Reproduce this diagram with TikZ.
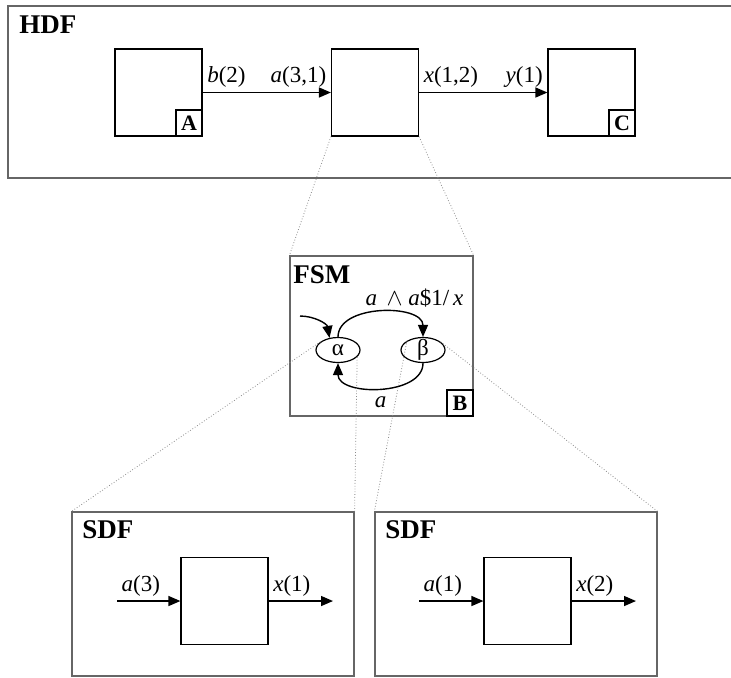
\documentclass[tikz,border=0pt]{standalone}
\usepackage{fontspec}
\setmainfont{Liberation Serif}
\usetikzlibrary{arrows.meta,shapes.geometric}

\tikzset{
  frame/.style={draw=black!60, line width=0.6pt, inner sep=0pt},
  block/.style={draw, line width=0.6pt, minimum width=43.5pt, minimum height=43.5pt, inner sep=0pt},
  tag/.style={draw, line width=0.6pt, minimum size=13pt, inner sep=0pt, anchor=south east,
    font=\fontsize{11}{12}\selectfont\bfseries},
  title/.style={inner sep=0pt, anchor=north west, font=\fontsize{13.5}{15}\selectfont\bfseries},
  state/.style={draw, ellipse, line width=0.6pt, minimum width=22pt, minimum height=12.5pt,
    inner sep=0pt, text height=5.5pt, text depth=0pt, font=\fontsize{11.5}{13}\selectfont},
  flow/.style={line width=0.7pt, -{Triangle[length=6pt,width=5pt]}},
  zoomline/.style={draw=black!45, densely dotted, line width=0.4pt},
  lbl/.style={inner sep=2pt, font=\fontsize{11.5}{13}\selectfont}
}

\begin{document}
\begin{tikzpicture}[x=0.5pt,y=-0.5pt]
  \useasboundingbox (0,0) rectangle (731,677);
  % HDF level
  \node (hdf) [frame, minimum width=370pt, minimum height=86pt] at (378,92) {};
  \node (hdft) [title] at (19,15) {HDF};
  \node (A) [block] at (158.5,92.5) {};
  \node (mid) [block] at (375,92.5) {};
  \node (C) [block] at (591.5,92.5) {};
  \node (Atag) [tag] at (A.south east) {A};
  \node (Ctag) [tag] at (C.south east) {C};
  \draw[flow] (A) -- (mid)
    node[pos=0, lbl, above right] {\textit{b}(2)}
    node[pos=1, lbl, above left] {\textit{a}(3,1)};
  \draw[flow] (mid) -- (C)
    node[pos=0, lbl, above right] {\textit{x}(1,2)}
    node[pos=1, lbl, above left] {\textit{y}(1)};
  % FSM level
  \node (fsm) [frame, minimum width=91.5pt, minimum height=80pt] at (381.5,336) {};
  \node (fsmt) [title] at (293,265) {FSM};
  \node (Btag) [tag] at (fsm.south east) {B};
  \node (alpha) [state] at (338,350) {α};
  \node (beta) [state] at (423,350) {β};
  \coordinate (init) at (300,316);
  \draw[flow] (init) to[out=0, in=100] (alpha.125);
  \draw[flow] (alpha.north) to[out=90, in=90]
    node[lbl, above, xshift=17pt] {\textit{a}\, $\wedge$ \textit{a}\$1/\,\textit{x}} (beta.north);
  \draw[flow] (beta.south) to[out=-90, in=-90]
    node[lbl, below, yshift=-2pt] {\textit{a}} (alpha.south);
  \draw[zoomline] (mid.south west) -- (fsm.north west);
  \draw[zoomline] (mid.south east) -- (fsm.north east);
  % SDF level
  \node (sdfL) [frame, minimum width=141pt, minimum height=82pt] at (213,594) {};
  \node (sdfR) [frame, minimum width=141pt, minimum height=82pt] at (516,594) {};
  \node (sdfLt) [title] at (82,520) {SDF};
  \node (sdfRt) [title] at (385,520) {SDF};
  \node (actL) [block] at (224.5,601) {};
  \node (actR) [block] at (527.5,601) {};
  \coordinate (inL) at (117,601);
  \coordinate (outL) at (333,601);
  \coordinate (inR) at (419,601);
  \coordinate (outR) at (636,601);
  \draw[flow] (inL) -- (actL) node[pos=0, lbl, above right] {\textit{a}(3)};
  \draw[flow] (actL) -- (outL) node[pos=0, lbl, above right] {\textit{x}(1)};
  \draw[flow] (inR) -- (actR) node[pos=0, lbl, above right] {\textit{a}(1)};
  \draw[flow] (actR) -- (outR) node[pos=0, lbl, above right] {\textit{x}(2)};
  \draw[zoomline] (alpha.155) -- (sdfL.north west);
  \draw[zoomline] (alpha.-20) -- (sdfL.north east);
  \draw[zoomline] (beta.150) -- (sdfR.north west);
  \draw[zoomline] (beta.25) -- (sdfR.north east);
\end{tikzpicture}
\end{document}
